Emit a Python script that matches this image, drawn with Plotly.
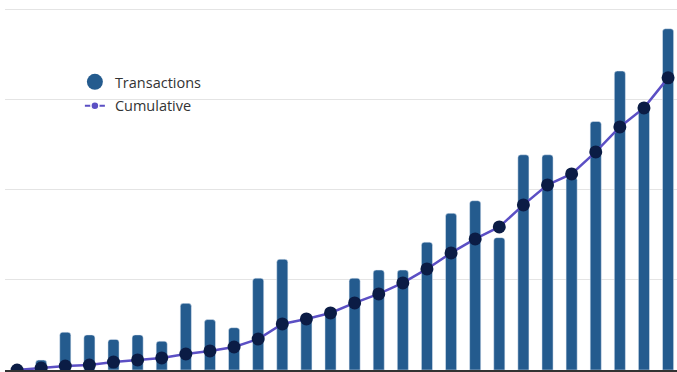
import plotly.graph_objects as go

categories = list(range(1, 29))
transactions = [0, 11, 42, 39, 34, 39, 32, 74, 56, 47, 102, 123, 58, 64, 102, 111,
                111, 142, 174, 188, 147, 239, 239, 214, 276, 332, 291, 379]
cumulative = [0, 25, 50, 63, 100, 126, 151, 201, 239, 289, 389, 578, 641, 716, 842,
              955, 1093, 1269, 1470, 1646, 1796, 2073, 2324, 2462, 2738, 3052, 3291, 3668]

BAR = "#245b8e"
LINE = "#5b4fc4"
DOT = "#0b1c45"

fig = go.Figure()
fig.add_trace(go.Bar(x=categories, y=transactions, marker=dict(color=BAR, cornerradius=3),
                     width=0.46, showlegend=False, name="Transactions"))
fig.add_trace(go.Scatter(x=categories, y=cumulative, yaxis="y2", mode="lines+markers",
                         line=dict(color=LINE, width=2.5),
                         marker=dict(color=DOT, size=13), cliponaxis=False,
                         showlegend=False, name="Cumulative"))
# legend entries
fig.add_trace(go.Scatter(x=[None], y=[None], mode="markers", name="Transactions",
                         legendgroup="a",
                         marker=dict(color=BAR, size=16, symbol="circle")))
fig.add_trace(go.Scatter(x=[None], y=[None], mode="lines+markers", name="Cumulative",
                         legendgroup="b",
                         line=dict(color=LINE, width=2, dash="0px,5px,20px,100px"),
                         marker=dict(color=LINE, size=8, line=dict(color="white", width=1.5))))

fig.update_layout(
    width=677, height=372,
    margin=dict(l=5, r=0, t=8, b=2),
    paper_bgcolor="white", plot_bgcolor="white",
    bargap=0.5,
    xaxis=dict(range=[0.5, 28.37], showticklabels=False, ticks="", showgrid=False,
               zeroline=False, showline=True, linecolor="#333333", linewidth=1.5),
    yaxis=dict(range=[0, 402], tickvals=[100, 200, 300, 400], showticklabels=False, ticks="",
               gridcolor="#e4e4e4", gridwidth=1, zeroline=False, showline=False),
    yaxis2=dict(range=[0, 4545], overlaying="y", side="right", showticklabels=False,
                showgrid=False, zeroline=False, showline=False, ticks=""),
    legend=dict(x=0.104, y=0.84, xanchor="left", yanchor="top", bgcolor="rgba(0,0,0,0)",
                font=dict(family="Open Sans", size=14.5, color="#333333"),
                traceorder="grouped", tracegroupgap=2),
    showlegend=True,
)

fig.write_html("out.html", config={"displayModeBar": False},
               post_script="document.body.style.margin='0';document.body.style.overflow='hidden';")
